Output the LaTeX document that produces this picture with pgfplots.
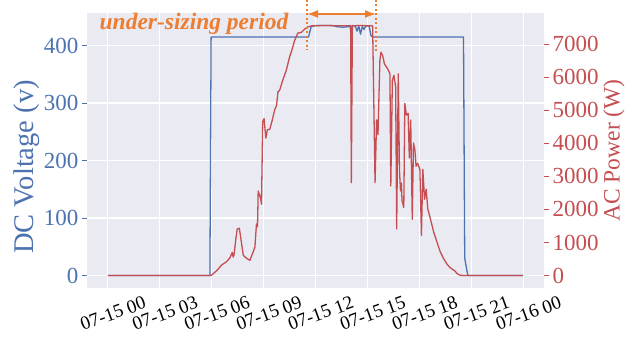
\documentclass[border=0pt]{standalone}
\usepackage{pgfplots}
\pgfplotsset{compat=1.18}
\usepackage{fontspec}
\setmainfont{Liberation Serif}
\usetikzlibrary{arrows.meta}
\definecolor{sbblue}{RGB}{76,114,176}
\definecolor{sbred}{RGB}{196,78,82}
\definecolor{sbbg}{RGB}{234,234,242}
\definecolor{anno}{RGB}{237,125,49}
\begin{document}
\begin{tikzpicture}
\path[use as bounding box] (-87bp,-57bp) rectangle (557bp,288bp);
\begin{axis}[
  at={(0,0)}, anchor=south west,
  scale only axis, width=457bp, height=275bp,
  xmin=-1.2, xmax=25.2, ymin=-21.75, ymax=456.75,
  axis background/.style={fill=sbbg},
  axis line style={draw=none},
  grid=major, grid style={white, line width=1.2bp},
  xtick={0,3,6,9,12,15,18,21,24},
  xticklabels={07-15 00,07-15 03,07-15 06,07-15 09,07-15 12,07-15 15,07-15 18,07-15 21,07-16 00},
  ytick={0,100,200,300,400},
  tick align=outside, major tick length=5bp,
  xtick style={draw=none},
  ytick style={sbblue, line width=0.8bp},
  ytick pos=left,
  xticklabel style={font=\fontsize{19bp}{21bp}\selectfont, rotate=20, anchor=center, yshift=-21bp, xshift=-2bp},
  yticklabel style={font=\fontsize{23bp}{26bp}\selectfont, text=sbblue},
  /pgf/number format/assume math mode=true,
  /pgf/number format/1000 sep={},
  every axis y label/.style={at={(axis description cs:-0.131,0.44)}, rotate=90, anchor=center, font=\fontsize{28.5bp}{30bp}\selectfont, text=sbblue},
  ylabel={DC Voltage (v)},
]
\addplot[sbblue, line width=1.3bp, line join=round, mark=none] coordinates {
(0,0) (5.9,0) (5.97,415) (11.6,415) (11.68,425) (11.75,433) (12.0,435) (12.5,435) (13.0,435)
(13.2,433) (13.6,432) (13.9,433) (14.0,435) (14.05,416) (14.12,435) (14.3,434) (14.4,425)
(14.5,434) (14.6,420) (14.7,433) (14.8,428) (14.9,434) (15.1,434) (15.2,418) (15.3,415)
(20.55,415) (20.62,30) (20.8,0) (24,0)
};
\end{axis}
\begin{axis}[
  at={(0,0)}, anchor=south west,
  scale only axis, width=457bp, height=275bp,
  xmin=-1.2, xmax=25.2, ymin=-378.5, ymax=7948.5,
  hide x axis,
  axis line style={draw=none},
  ytick={0,1000,2000,3000,4000,5000,6000,7000},
  scaled y ticks=false,
  tick align=outside, major tick length=5bp,
  ytick style={sbred, line width=0.8bp},
  ytick pos=right, yticklabel pos=right,
  yticklabel style={font=\fontsize{23bp}{26bp}\selectfont, text=sbred},
  /pgf/number format/assume math mode=true,
  /pgf/number format/1000 sep={},
  every axis y label/.style={at={(axis description cs:1.153,0.5)}, rotate=90, anchor=center, font=\fontsize{23.5bp}{26bp}\selectfont, text=sbred},
  ylabel={AC Power (W)},
]
\addplot[sbred, line width=1.3bp, line join=round, mark=none] coordinates {
(0,0) (5.97,0) (6.3,150) (6.58,320) (6.87,420) (7.06,540) (7.19,700) (7.24,560) (7.29,610)
(7.4,1110) (7.48,1410) (7.6,1430) (7.69,1110) (7.83,610) (8.02,520) (8.21,460) (8.36,660)
(8.5,860) (8.59,1560) (8.65,1480) (8.69,2560) (8.76,2450) (8.84,2300) (8.88,2160) (8.95,4660)
(9.03,4750) (9.13,4160) (9.22,4410) (9.36,4430) (9.5,4700) (9.64,5010) (9.75,5150)
(9.83,5560) (9.93,5610) (10.1,5900) (10.31,6210) (10.5,6610) (10.65,6850) (10.79,7110)
(10.98,7340) (11.18,7360) (11.37,7460) (11.56,7530) (11.8,7560) (12.5,7570) (13.5,7560)
(14.03,7560) (14.07,2810) (14.13,7560) (14.5,7570) (15.3,7560) (15.44,2810) (15.53,4710)
(15.61,4260) (15.67,5510) (15.72,6510) (15.78,6760) (15.88,6660) (15.98,6410) (16.17,6260)
(16.3,6110) (16.35,2710) (16.44,5910) (16.53,6060) (16.63,5710) (16.69,1410) (16.78,6110)
(16.85,3200) (16.91,2560) (16.96,2800) (17.0,2260) (17.1,2060) (17.16,5210) (17.25,4860)
(17.35,4910) (17.42,3560) (17.5,4710) (17.59,1700) (17.66,4010) (17.74,3810) (17.81,3310)
(17.9,3400) (18.03,3210) (18.12,1210) (18.2,3210) (18.3,2310) (18.39,2610) (18.49,2010)
(18.64,1710) (18.83,1310) (19.02,1010) (19.21,710) (19.4,510) (19.59,350) (19.75,250)
(19.88,200) (20.07,130) (20.17,60) (20.3,20) (20.46,0) (24,0)
};
\end{axis}
\draw[anno, line width=2bp, dash pattern=on 2bp off 2.5bp] (220bp,288bp) -- (220bp,238bp);
\draw[anno, line width=2bp, dash pattern=on 2bp off 2.5bp] (289bp,288bp) -- (289bp,236.5bp);
\draw[anno, line width=1.6bp, {Latex[length=11bp,width=8bp]}-{Latex[length=11bp,width=8bp]}] (220bp,274bp) -- (289bp,274bp);
\node[anno, font=\fontsize{23.5bp}{26bp}\selectfont\bfseries\itshape, anchor=base, inner sep=0pt] at (107bp,258.7bp) {under-sizing period};
\end{tikzpicture}
\end{document}
